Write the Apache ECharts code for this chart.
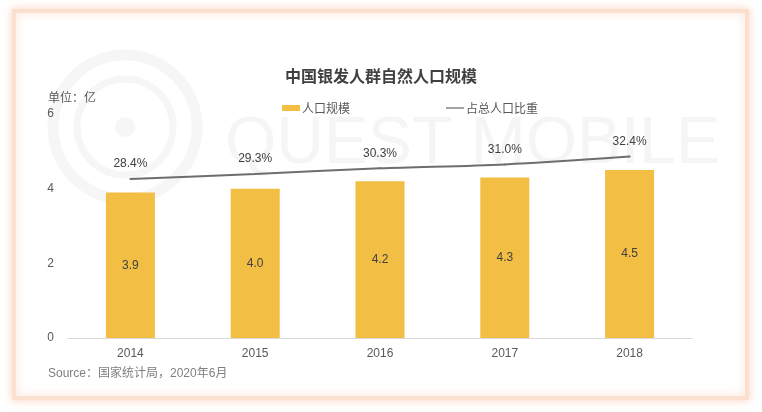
<!DOCTYPE html>
<html>
<head>
<meta charset="utf-8">
<script src="https://cdn.jsdelivr.net/npm/echarts@6/dist/echarts.min.js"></script>
<style>
html,body{margin:0;padding:0;background:#fff;}
#chart{width:762px;height:412px;}
</style>
</head>
<body>
<div id="chart"></div>
<script>
const categories = ['2014', '2015', '2016', '2017', '2018'];
const population = [3.9, 4.0, 4.2, 4.3, 4.5];
const share = [28.4, 29.3, 30.3, 31.0, 32.4];
const yTicks = [0, 2, 4, 6];

const FONT = '"Liberation Sans", "Noto Sans CJK SC", sans-serif';
const chart = echarts.init(document.getElementById('chart'));
chart.setOption({
  backgroundColor: '#fff',
  textStyle: { fontFamily: FONT },
  graphic: [
    { type: 'rect', z: -10, silent: true,
      shape: { x: 14, y: 11, width: 733, height: 387 },
      style: { fill: '#fff', stroke: '#fce0cf', lineWidth: 4, shadowColor: 'rgba(248,195,165,0.6)', shadowBlur: 9 } },
    { type: 'circle', z: -9, silent: true, shape: { cx: 125, cy: 127, r: 72 },
      style: { fill: 'none', stroke: '#f6f6f6', lineWidth: 11 } },
    { type: 'circle', z: -9, silent: true, shape: { cx: 125, cy: 127, r: 48 },
      style: { fill: 'none', stroke: '#f6f6f6', lineWidth: 7 } },
    { type: 'circle', z: -9, silent: true, shape: { cx: 125, cy: 127, r: 10 },
      style: { fill: '#f6f6f6' } },
    { type: 'text', z: -9, silent: true, left: 225, top: 112,
      style: { text: 'QUEST MOBILE', fill: '#f5f5f5', font: '66px "Liberation Sans", sans-serif' } },
    { type: 'text', left: 48, top: 91,
      style: { text: '单位：亿', fill: '#595959', font: '12px "Noto Sans CJK SC", sans-serif' } },
    { type: 'text', left: 48, top: 368,
      style: { text: 'Source：国家统计局，2020年6月', fill: '#7f7f7f', font: '12px "Liberation Sans", "Noto Sans CJK SC", sans-serif' } }
  ],
  title: {
    text: '中国银发人群自然人口规模',
    left: 'center', top: 63,
    textStyle: { fontSize: 16, fontWeight: 'bold', color: '#404040', fontFamily: '"Noto Sans CJK SC", sans-serif' }
  },
  legend: {
    left: 277, top: 97,
    itemGap: 96,
    itemWidth: 18, itemHeight: 6,
    textStyle: { fontSize: 12, color: '#595959', fontFamily: '"Noto Sans CJK SC", sans-serif', padding: [0, 0, 0, -3] },
    data: [
      { name: '人口规模', icon: 'rect' },
      { name: '占总人口比重', icon: 'path://M0,0 L20,0 L20,1.6 L0,1.6 Z', itemStyle: { color: '#7f7f7f' } }
    ]
  },
  grid: { left: 68, right: 70, top: 114, bottom: 74 },
  xAxis: {
    type: 'category',
    data: categories,
    axisLine: { lineStyle: { color: '#d9d9d9' } },
    axisTick: { show: false },
    axisLabel: { color: '#595959', fontSize: 12, margin: 10 }
  },
  yAxis: [
    {
      type: 'value', min: yTicks[0], max: yTicks[yTicks.length - 1], interval: 2,
      axisLine: { show: false }, axisTick: { show: false }, splitLine: { show: false },
      axisLabel: { color: '#595959', fontSize: 12, margin: 14 }
    },
    { type: 'value', min: 0, max: 40, show: false, splitLine: { show: false } }
  ],
  series: [
    {
      name: '人口规模', type: 'bar', data: population, barWidth: 49,
      itemStyle: { color: '#f2be43' },
      label: { show: true, position: 'inside', color: '#404040', fontSize: 12, formatter: p => p.value.toFixed(1) }
    },
    {
      name: '占总人口比重', type: 'line', yAxisIndex: 1, data: share,
      smooth: 0.3, symbol: 'circle', symbolSize: 2, showSymbol: true,
      lineStyle: { color: '#6e6e6e', width: 2 },
      itemStyle: { color: '#6e6e6e' },
      label: { show: true, position: 'top', distance: 8, color: '#404040', fontSize: 12, formatter: p => p.value.toFixed(1) + '%' }
    }
  ]
});
</script>
</body>
</html>
